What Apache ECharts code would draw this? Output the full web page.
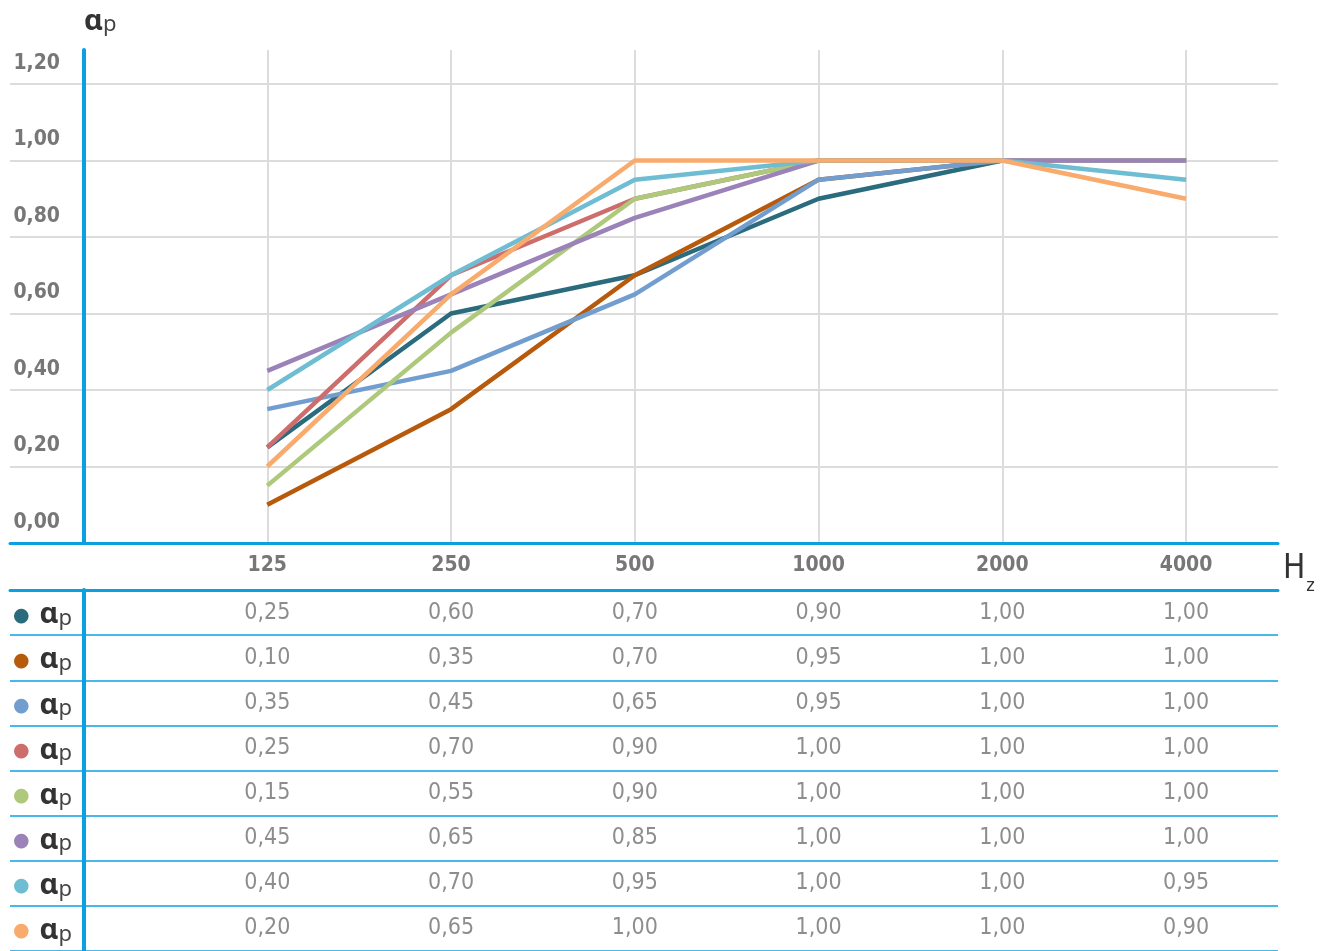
<!DOCTYPE html>
<html><head><meta charset="utf-8">
<script src="https://cdn.jsdelivr.net/npm/echarts@6/dist/echarts.min.js"></script>
<style>html,body{margin:0;padding:0;background:#fff}#c{width:1328px;height:951px}</style>
</head><body><div id="c"></div>
<script>
const frequencies = ['125', '250', '500', '1000', '2000', '4000'];
const seriesColors = ['#2a6b7d', '#b85a0c', '#729ecf', '#cd6d6c', '#aec97c', '#9b82b8', '#6fbdd3', '#f8ab6c'];
const s1 = [0.25, 0.60, 0.70, 0.90, 1.00, 1.00];
const s2 = [0.10, 0.35, 0.70, 0.95, 1.00, 1.00];
const s3 = [0.35, 0.45, 0.65, 0.95, 1.00, 1.00];
const s4 = [0.25, 0.70, 0.90, 1.00, 1.00, 1.00];
const s5 = [0.15, 0.55, 0.90, 1.00, 1.00, 1.00];
const s6 = [0.45, 0.65, 0.85, 1.00, 1.00, 1.00];
const s7 = [0.40, 0.70, 0.95, 1.00, 1.00, 0.95];
const s8 = [0.20, 0.65, 1.00, 1.00, 1.00, 0.90];
const allSeries = [s1, s2, s3, s4, s5, s6, s7, s8];
const rowNames = ['αp1', 'αp2', 'αp3', 'αp4', 'αp5', 'αp6', 'αp7', 'αp8'];
const yTicks = [0, 0.2, 0.4, 0.6, 0.8, 1.0, 1.2];

const NARROW = "'Liberation Sans Narrow','DejaVu Sans Condensed','Roboto Condensed',sans-serif";
const BLUE = '#0aa0e2';
const fmt = v => v.toFixed(2).replace('.', ',');

const chart = echarts.init(document.getElementById('c'), null, {renderer: 'canvas'});

const dotRich = {};
seriesColors.forEach((c, i) => {
  dotRich['c' + i] = {fontFamily: "'DejaVu Sans',sans-serif", fontSize: 19, color: c, verticalAlign: 'middle', padding: [6, 0, 0, 0]};
});
const alphaRich = {
  a: {fontFamily: "'Noto Sans',sans-serif", fontWeight: 'bold', fontSize: 29, color: '#333', verticalAlign: 'bottom', lineHeight: 34},
  p: {fontFamily: "'Noto Sans',sans-serif", fontSize: 22, color: '#444', verticalAlign: 'bottom', lineHeight: 34}
};

const lineSeries = allSeries.map((vals, i) => ({
  type: 'line',
  name: rowNames[i],
  xAxisIndex: 0, yAxisIndex: 0,
  data: vals.map((v, j) => [j, v]),
  symbol: 'none',
  lineStyle: {width: 4.5, color: seriesColors[i]},
  itemStyle: {color: seriesColors[i]},
  z: 3 + i
}));

const cellData = [];
allSeries.forEach((vals, i) => vals.forEach((v, j) => cellData.push([j, i, v])));

const option = {
  animation: false,
  grid: [
    {left: 10, right: 50, top: 50, bottom: 408},
    {left: 10, right: 50, top: 590, height: 370}
  ],
  xAxis: [
    {
      gridIndex: 0, type: 'value', min: -1.4, max: 5.5, minInterval: 1, maxInterval: 1,
      axisLine: {show: true, onZero: false, lineStyle: {color: BLUE, width: 3}},
      axisTick: {show: false},
      axisLabel: {
        margin: 12, color: '#777', fontFamily: NARROW, fontWeight: 'bold', fontSize: 21,
        showMinLabel: false, showMaxLabel: false,
        formatter: v => { const k = Math.round(v); return (Math.abs(v - k) < 1e-6 && k >= 0 && k < frequencies.length) ? frequencies[k] : ''; }
      },
      splitLine: {show: true, showMinLine: false, showMaxLine: false, lineStyle: {color: '#dcdcdc', width: 2}},
      name: '{h|H}{z|z}', nameLocation: 'end', nameGap: 5,
      nameTextStyle: {
        verticalAlign: 'top', padding: [10, 0, 0, 0],
        rich: {
          h: {fontFamily: NARROW, fontSize: 33, color: '#333', verticalAlign: 'top', lineHeight: 36},
          z: {fontFamily: NARROW, fontSize: 18, color: '#333', verticalAlign: 'top', lineHeight: 36, padding: [24, 0, 0, 1]}
        }
      }
    },
    {
      gridIndex: 1, type: 'value', min: -1.4, max: 5.5, position: 'top',
      axisLine: {show: true, onZero: false, lineStyle: {color: BLUE, width: 3}},
      axisTick: {show: false}, axisLabel: {show: false}, splitLine: {show: false}
    }
  ],
  yAxis: [
    {
      gridIndex: 0, type: 'value', min: 0, max: 1.289, interval: 0.2, offset: -74,
      axisLine: {show: true, onZero: false, lineStyle: {color: BLUE, width: 4}},
      axisTick: {show: false},
      axisLabel: {
        margin: 24, color: '#777', fontFamily: NARROW, fontWeight: 'bold', fontSize: 21,
        verticalAlign: 'bottom', padding: [0, 0, 10, 0], showMaxLabel: false,
        formatter: v => { const t = yTicks.find(x => Math.abs(x - v) < 1e-6); return t === undefined ? '' : fmt(t); }
      },
      splitLine: {show: true, showMinLine: false, showMaxLine: false, lineStyle: {color: '#dcdcdc', width: 2}},
      name: '{a|α}{p|p}', nameLocation: 'end', nameGap: 14,
      nameTextStyle: {align: 'left', rich: alphaRich}
    },
    {
      gridIndex: 1, type: 'category', data: rowNames, inverse: true, offset: -74,
      axisLine: {show: true, onZero: false, lineStyle: {color: BLUE, width: 4}},
      axisTick: {show: false},
      axisLabel: {
        interval: 0, margin: 71, align: 'left',
        formatter: (val, idx) => '{c' + idx + '|●}{s|}{a|α}{p|p}',
        rich: Object.assign({s: {width: 10}}, dotRich, alphaRich)
      },
      splitLine: {show: true, interval: 0, lineStyle: {color: BLUE, width: 1.5}}
    }
  ],
  series: lineSeries.concat([{
    type: 'scatter', xAxisIndex: 1, yAxisIndex: 1,
    data: cellData, symbolSize: 0,
    label: {
      show: true, position: 'inside', color: '#707070', fontFamily: NARROW, fontSize: 23,
      formatter: p => fmt(p.value[2])
    }
  }])
};
chart.setOption(option);
</script>
</body></html>
